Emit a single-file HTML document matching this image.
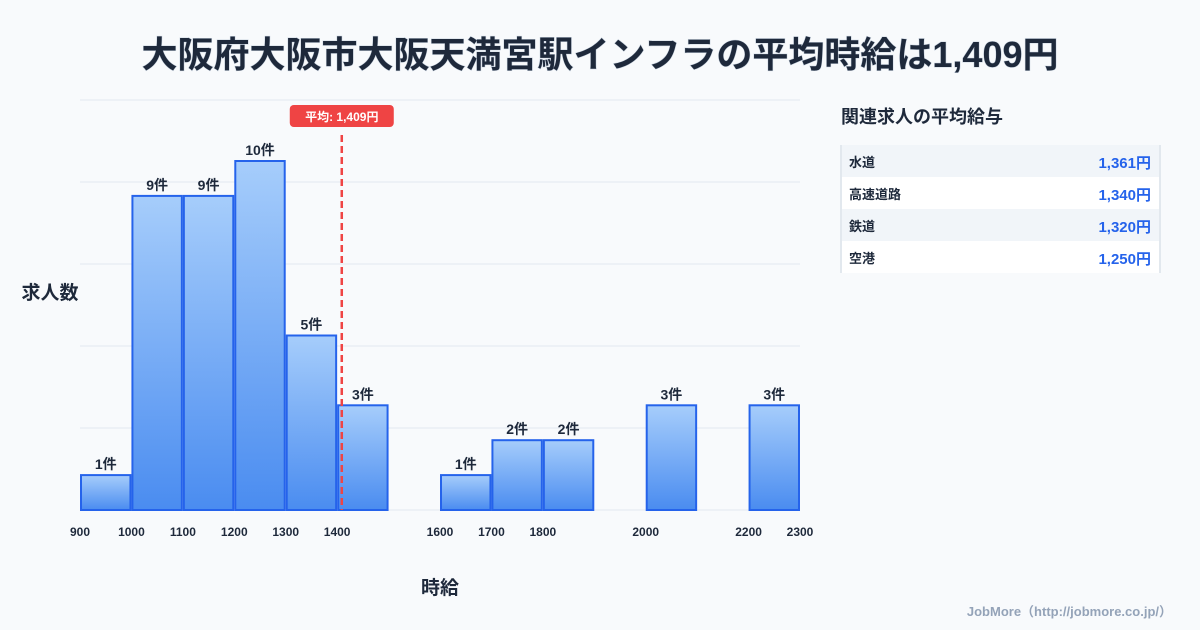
<!DOCTYPE html>
<html><head><meta charset="utf-8"><style>
body{margin:0;background:#f8fafc;font-family:"Liberation Sans","Noto Sans CJK JP",sans-serif;}
#wrap{position:relative;width:1200px;height:630px;overflow:hidden;background:#f8fafc}
</style></head><body>
<div id="wrap">
<svg id="svg" width="1200" height="630" xmlns="http://www.w3.org/2000/svg" style="position:absolute;left:0;top:0">
<defs><linearGradient id="g" x1="0" y1="0" x2="0" y2="1"><stop offset="0" stop-color="#a6cdfb"/><stop offset="1" stop-color="#4a8cf0"/></linearGradient></defs>
<text x="600" y="67" text-anchor="middle" font-size="36" font-weight="700" fill="#1e293b" style="paint-order:stroke" stroke="#cbd5e1" stroke-width="1">大阪府大阪市大阪天満宮駅インフラの平均時給は1,409円</text>
<g id="grid"></g><g id="bars"></g><g id="ticks"></g>
<text x="50" y="299" text-anchor="middle" font-size="19" font-weight="700" fill="#1e293b">求人数</text>
<text x="440" y="594" text-anchor="middle" font-size="19" font-weight="700" fill="#1e293b">時給</text>
<g id="avg"></g>
<text x="841" y="123" font-size="18" font-weight="700" fill="#1e293b">関連求人の平均給与</text>
<g id="table"></g>
<text x="1172" y="616" text-anchor="end" font-size="13" font-weight="700" fill="#94a3b8">JobMore（http://jobmore.co.jp/）</text>
</svg></div>
<script>
const binStarts=[900,1000,1100,1200,1300,1400,1600,1700,1800,2000,2200];
const binCounts=[1,9,9,10,5,3,1,2,2,3,3];
const tickLabels=[900,1000,1100,1200,1300,1400,1600,1700,1800,2000,2200,2300];
const avgValue=1409;
const relNames=["水道","高速道路","鉄道","空港"];
const relValues=["1,361円","1,340円","1,320円","1,250円"];
const NS="http://www.w3.org/2000/svg";
const X=v=>80+(v-900)*720/1400;
const Y=c=>510-c*34.9;
function mk(t,a,p){const e=document.createElementNS(NS,t);for(const k in a)e.setAttribute(k,a[k]);p.appendChild(e);return e;}
const grid=document.getElementById('grid');
for(let i=0;i<=5;i++){const y=100+i*82;const l=mk('line',{x1:80,x2:800,y1:y,y2:y,stroke:'#e2e8f0','stroke-width':1},grid);

}
const bars=document.getElementById('bars');
binStarts.forEach((s,i)=>{const x0=X(s)+1,x1=X(s+100)-1,y=Y(binCounts[i]);
const r=mk('rect',{x:x0,y:y,width:x1-x0,height:510-y,fill:'url(#g)',stroke:'#2563eb','stroke-width':2},bars);


const t=mk('text',{x:(x0+x1)/2,y:y-6,'text-anchor':'middle','font-size':14,'font-weight':700,fill:'#1e293b'},bars);
t.textContent=binCounts[i]+'件';

});
const ticks=document.getElementById('ticks');
tickLabels.forEach(v=>{const t=mk('text',{x:X(v),y:536,'text-anchor':'middle','font-size':12,'font-weight':700,fill:'#1e293b'},ticks);t.textContent=v;

});
const avg=document.getElementById('avg');const ax=X(avgValue);
const al=mk('line',{x1:ax,x2:ax,y1:135,y2:510,stroke:'#ef4444','stroke-width':2.5,'stroke-dasharray':'7,4'},avg);


const ab=mk('rect',{x:ax-52,y:105,width:104,height:22,rx:4,fill:'#ef4444'},avg);


const at=mk('text',{x:ax,y:121,'text-anchor':'middle','font-size':12,'font-weight':700,fill:'#fff'},avg);at.textContent='平均: 1,409円';


const tb=document.getElementById('table');
mk('line',{x1:841,x2:841,y1:145,y2:273,stroke:'#cbd5e1','stroke-width':1},tb);
mk('line',{x1:1160,x2:1160,y1:145,y2:273,stroke:'#cbd5e1','stroke-width':1},tb);
relNames.forEach((n,i)=>{const y=145+i*32;
const r=mk('rect',{x:842,y:y,width:317,height:32,fill:i%2?'#ffffff':'#f1f5f9'},tb);


const a=mk('text',{x:849,y:y+22,'font-size':13,'font-weight':700,fill:'#1e293b'},tb);a.textContent=n;


const b=mk('text',{x:1151,y:y+23,'text-anchor':'end','font-size':15,'font-weight':700,fill:'#2563eb'},tb);b.textContent=relValues[i];

});
</script>
</body></html>
